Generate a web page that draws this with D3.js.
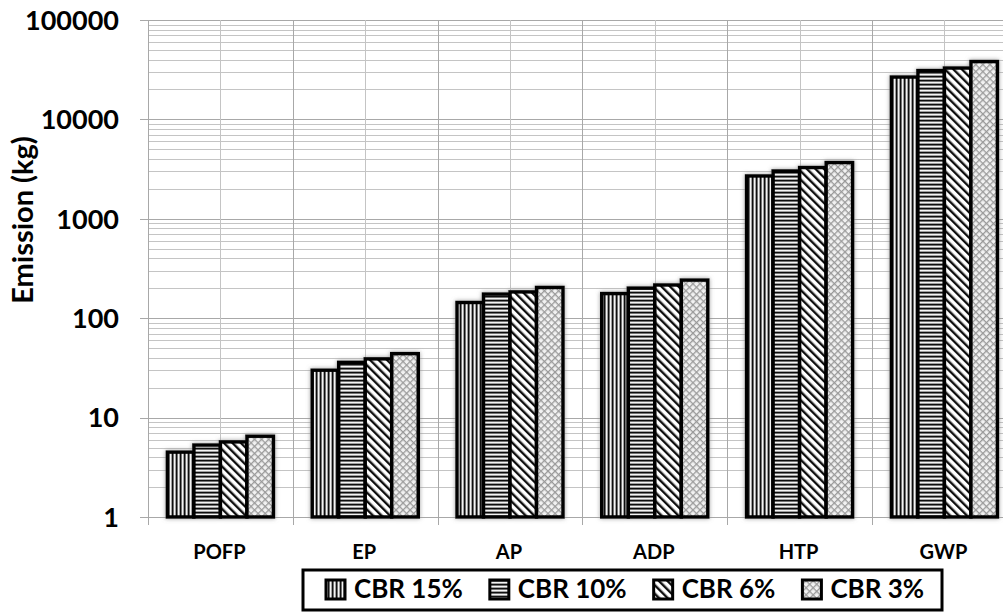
<!DOCTYPE html>
<html>
<head>
<meta charset="utf-8">
<script src="https://cdn.jsdelivr.net/npm/d3@7"></script>
<style>
  body { margin: 0; background: #fff; }
  text { font-family: Lato, "Open Sans", sans-serif; font-weight: bold; fill: #000; }
</style>
</head>
<body>
<div id="chart"></div>
<script>
const categories = ["POFP", "EP", "AP", "ADP", "HTP", "GWP"];
const seriesNames = ["CBR 15%", "CBR 10%", "CBR 6%", "CBR 3%"];
const cbr15 = [4.5, 30, 144, 177, 2700, 26700];
const cbr10 = [5.3, 36, 175, 201, 3030, 31000];
const cbr6 = [5.7, 39, 184, 216, 3280, 32900];
const cbr3 = [6.5, 44, 204, 242, 3680, 38200];
const yTicks = [1, 10, 100, 1000, 10000, 100000];

const seriesValues = [cbr15, cbr10, cbr6, cbr3];
const patternIds = ["pVert", "pHorz", "pDiag", "pCross"];

const width = 1003;
const height = 614;
const plotLeft = 148, plotTop = 20, plotBottom = 517;
const catStep = 144.8;

const svg = d3.select("#chart")
  .append("svg")
  .attr("width", width)
  .attr("height", height);

const defs = svg.append("defs");

// vertical stripes
const pv = defs.append("pattern").attr("id", "pVert")
  .attr("patternUnits", "userSpaceOnUse").attr("width", 4).attr("height", 4);
pv.append("rect").attr("width", 4).attr("height", 4).attr("fill", "#8a8a8a");
pv.append("rect").attr("x", 0).attr("width", 1.2).attr("height", 4).attr("fill", "#111");
pv.append("rect").attr("x", 2).attr("width", 1.2).attr("height", 4).attr("fill", "#f4f4f4");

// horizontal stripes
const ph = defs.append("pattern").attr("id", "pHorz")
  .attr("patternUnits", "userSpaceOnUse").attr("width", 4).attr("height", 4);
ph.append("rect").attr("width", 4).attr("height", 4).attr("fill", "#8a8a8a");
ph.append("rect").attr("y", 0).attr("width", 4).attr("height", 1.2).attr("fill", "#111");
ph.append("rect").attr("y", 2).attr("width", 4).attr("height", 1.2).attr("fill", "#f4f4f4");

// diagonal lines
const pd = defs.append("pattern").attr("id", "pDiag")
  .attr("patternUnits", "userSpaceOnUse").attr("width", 6).attr("height", 6)
  .attr("patternTransform", "rotate(-45)");
pd.append("rect").attr("width", 6).attr("height", 6).attr("fill", "#fff");
pd.append("rect").attr("width", 2.4).attr("height", 6).attr("fill", "#111");

// crosshatch
const pc = defs.append("pattern").attr("id", "pCross")
  .attr("patternUnits", "userSpaceOnUse").attr("width", 5).attr("height", 5)
  .attr("patternTransform", "rotate(45)");
pc.append("rect").attr("width", 5).attr("height", 5).attr("fill", "#f2f2f2");
pc.append("rect").attr("width", 1.3).attr("height", 5).attr("fill", "#9a9a9a");
pc.append("rect").attr("width", 5).attr("height", 1.3).attr("fill", "#9a9a9a");

// soft grey glow round the bars
const glow = defs.append("filter").attr("id", "glow")
  .attr("x", "-20%").attr("y", "-20%").attr("width", "140%").attr("height", "140%");
glow.append("feGaussianBlur").attr("in", "SourceAlpha").attr("stdDeviation", 2).attr("result", "blur");
glow.append("feFlood").attr("flood-color", "#888").attr("flood-opacity", 0.8);
glow.append("feComposite").attr("in2", "blur").attr("operator", "in").attr("result", "shadow");
const merge = glow.append("feMerge");
merge.append("feMergeNode").attr("in", "shadow");
merge.append("feMergeNode").attr("in", "SourceGraphic");

const x = d3.scaleBand()
  .domain(categories)
  .range([plotLeft, plotLeft + catStep * categories.length])
  .padding(0);

const x1 = d3.scaleBand()
  .domain(seriesNames)
  .range([0, x.bandwidth()])
  .paddingInner(0)
  .paddingOuter(0.73);

const y = d3.scaleLog()
  .domain([1, 100000])
  .range([plotBottom, plotTop]);

// horizontal gridlines (major + minor)
const minor = [];
for (let d = 1; d < 100000; d *= 10) {
  for (let m = 2; m <= 9; m++) minor.push(d * m);
}
const grid = svg.append("g");
grid.selectAll("line.minor")
  .data(minor)
  .enter().append("line")
  .attr("x1", plotLeft).attr("x2", width)
  .attr("y1", d => Math.round(y(d)) + 0.5)
  .attr("y2", d => Math.round(y(d)) + 0.5)
  .attr("stroke", "#c4c4c4").attr("stroke-width", 1);
grid.selectAll("line.major")
  .data(yTicks)
  .enter().append("line")
  .attr("x1", plotLeft - 8).attr("x2", width)
  .attr("y1", d => Math.round(y(d)) + 0.5)
  .attr("y2", d => Math.round(y(d)) + 0.5)
  .attr("stroke", "#a8a8a8").attr("stroke-width", 1);

// vertical gridlines at boundaries and centres
grid.selectAll("line.vb")
  .data(categories)
  .enter().append("line")
  .attr("x1", d => Math.round(x(d)) + 0.5).attr("x2", d => Math.round(x(d)) + 0.5)
  .attr("y1", plotTop).attr("y2", plotBottom + 8)
  .attr("stroke", "#a8a8a8");
grid.selectAll("line.vc")
  .data(categories)
  .enter().append("line")
  .attr("x1", d => Math.round(x(d) + x.bandwidth() / 2) + 0.5)
  .attr("x2", d => Math.round(x(d) + x.bandwidth() / 2) + 0.5)
  .attr("y1", plotTop).attr("y2", plotBottom)
  .attr("stroke", "#c4c4c4");

// bars
const bars = svg.append("g").attr("filter", "url(#glow)");
seriesNames.forEach((s, si) => {
  bars.selectAll(null)
    .data(categories.map((c, ci) => ({ c, v: seriesValues[si][ci] })))
    .enter().append("rect")
    .attr("x", d => x(d.c) + x1(s))
    .attr("y", d => y(d.v))
    .attr("width", x1.bandwidth())
    .attr("height", d => plotBottom - y(d.v))
    .attr("fill", `url(#${patternIds[si]})`)
    .attr("stroke", "#000")
    .attr("stroke-width", 3.5);
});

// y tick labels
svg.append("g").selectAll("text")
  .data(yTicks)
  .enter().append("text")
  .attr("x", 119)
  .attr("y", d => y(d))
  .attr("dy", "0.36em")
  .attr("text-anchor", "end")
  .style("font-size", "27px")
  .text(d => d);

// category labels
svg.append("g").selectAll("text")
  .data(categories)
  .enter().append("text")
  .attr("x", d => x(d) + x.bandwidth() / 2 - 1)
  .attr("y", 559)
  .attr("text-anchor", "middle")
  .style("font-size", "20px")
  .text(d => d);

// y title
svg.append("text")
  .attr("transform", "translate(33,220) rotate(-90)")
  .attr("text-anchor", "middle")
  .style("font-size", "29px")
  .text("Emission (kg)");

// legend
const legend = svg.append("g");
legend.append("rect")
  .attr("x", 303).attr("y", 570)
  .attr("width", 639).attr("height", 40)
  .attr("fill", "#fff").attr("stroke", "#000").attr("stroke-width", 3);
let lx = 326;
seriesNames.forEach((s, i) => {
  legend.append("rect")
    .attr("x", lx).attr("y", 580)
    .attr("width", 19).attr("height", 19)
    .attr("fill", `url(#${patternIds[i]})`)
    .attr("stroke", "#000").attr("stroke-width", 3);
  const t = legend.append("text")
    .attr("x", lx + 28).attr("y", 598)
    .style("font-size", "26px")
    .text(s);
  lx += 28 + t.node().getComputedTextLength() + 27;
});
</script>
</body>
</html>
